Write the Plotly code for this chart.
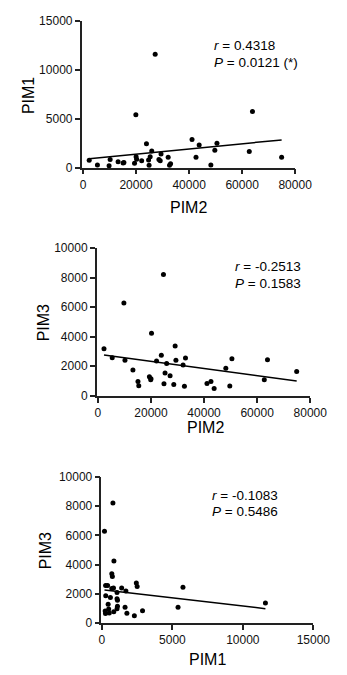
import numpy as np
import plotly.graph_objects as go

# ---- data (one row per sample) ----
PIM2 = [2300, 5400, 9800, 10200, 13200, 15100, 15400, 19400, 19900, 20200, 20000,
        22100, 23900, 24700, 24900, 25300, 25900, 27200, 28600, 29100, 29400,
        32100, 32600, 33000, 41100, 42600, 43800, 48200, 49700, 50500, 62700,
        63900, 74900]
PIM1 = [740, 260, 180, 820, 600, 480, 520, 440, 5400, 850, 1100,
        700, 2440, 780, 230, 1100, 1700, 11600, 840, 700, 1400,
        1070, 250, 400, 2880, 1070, 2300, 270, 1770, 2500, 1640,
        5750, 1070]
PIM3 = [3190, 2570, 6290, 2400, 1740, 960, 680, 1280, 1080, 4240, 1150,
        2360, 2740, 8220, 820, 1550, 2190, 1360, 770, 3380, 2400,
        2090, 640, 2560, 830, 970, 490, 1860, 660, 2500, 1080,
        2440, 1650]

R_TEXT = ["0.4318", "-0.2513", "-0.1083"]
P_TEXT = ["0.0121 (*)", "0.1583", "0.5486"]

X_TICKS_PIM2 = [0, 20000, 40000, 60000, 80000]
X_TICKS_PIM1 = [0, 5000, 10000, 15000]
Y_TICKS_PIM1 = [0, 5000, 10000, 15000]
Y_TICKS_PIM3 = [0, 2000, 4000, 6000, 8000, 10000]

W, H = 347, 675
FONT = "Liberation Sans, Arial, Helvetica, sans-serif"

def px(x):
    return x / W

def py(y):
    return (H - y) / H

panels = [
    dict(x=PIM2, y=PIM1, xn="PIM2", yn="PIM1", xt=X_TICKS_PIM2, yt=Y_TICKS_PIM1,
         xd=(83.5, 310), xr=(-533, 80000), yd=(164, 14.3), yr=(0, 15000),
         xtitle=(196.7, 204.5), ytitle=(26.5, 90), stat=(222, 39, 57)),
    dict(x=PIM2, y=PIM3, xn="PIM2", yn="PIM3", xt=X_TICKS_PIM2, yt=Y_TICKS_PIM3,
         xd=(99.5, 326), xr=(-426, 80000), yd=(397, 246.3), yr=(0, 10000),
         xtitle=(214.5, 429), ytitle=(43, 322.5), stat=(244, 265.5, 282.5)),
    dict(x=PIM1, y=PIM3, xn="PIM1", yn="PIM3", xt=X_TICKS_PIM1, yt=Y_TICKS_PIM3,
         xd=(104.5, 329.3), xr=(-33, 15000), yd=(629, 480), yr=(0, 10000),
         xtitle=(217, 666), ytitle=(45.5, 555), stat=(220, 498.5, 515)),
]

fig = go.Figure()
layout = dict(
    width=W, height=H, margin=dict(l=0, r=0, t=0, b=0),
    paper_bgcolor="white", plot_bgcolor="white", showlegend=False,
    font=dict(family=FONT, color="black"),
)
annotations = []

for i, p in enumerate(panels):
    n = "" if i == 0 else str(i + 1)
    xa, ya = "x" + n, "y" + n
    xs = np.array(p["x"], dtype=float)
    ys = np.array(p["y"], dtype=float)
    fig.add_trace(go.Scatter(x=xs, y=ys, mode="markers", xaxis=xa, yaxis=ya,
                             marker=dict(color="black", size=5), cliponaxis=False))
    slope, icpt = np.polyfit(xs, ys, 1)
    lx = np.array([xs.min(), xs.max()])
    fig.add_trace(go.Scatter(x=lx, y=slope * lx + icpt, mode="lines", xaxis=xa, yaxis=ya,
                             line=dict(color="black", width=1.5), cliponaxis=False))
    axis_common = dict(showline=True, linecolor="#222", linewidth=1.6, ticks="outside",
                       ticklen=5, tickwidth=1.5, tickcolor="#222", showgrid=False,
                       zeroline=False, tickfont=dict(size=12, family=FONT, color="#111"))
    layout["xaxis" + n] = dict(domain=[px(p["xd"][0]), px(p["xd"][1])], range=list(p["xr"]),
                               anchor=ya, tickvals=p["xt"], ticktext=[str(t) for t in p["xt"]],
                               **axis_common)
    layout["yaxis" + n] = dict(domain=[py(p["yd"][0]), py(p["yd"][1])], range=list(p["yr"]),
                               anchor=xa, tickvals=p["yt"], ticktext=[str(t) for t in p["yt"]],
                               **axis_common)
    annotations.append(dict(text=p["xn"], x=px(p["xtitle"][0]), y=py(p["xtitle"][1]),
                            xref="paper", yref="paper", showarrow=False,
                            xanchor="center", yanchor="middle",
                            font=dict(size=16, family=FONT, color="black")))
    annotations.append(dict(text=p["yn"], x=px(p["ytitle"][0]), y=py(p["ytitle"][1]),
                            xref="paper", yref="paper", showarrow=False, textangle=-90,
                            xanchor="center", yanchor="middle",
                            font=dict(size=16, family=FONT, color="black")))
    sx, sy1, sy2 = p["stat"]
    annotations.append(dict(text="<i>r</i> = " + R_TEXT[i], x=px(sx), y=py(sy1),
                            xref="paper", yref="paper", showarrow=False,
                            xanchor="left", yanchor="middle",
                            font=dict(size=13.5, family=FONT, color="black")))
    annotations.append(dict(text="<i>P</i> = " + P_TEXT[i], x=px(sx), y=py(sy2),
                            xref="paper", yref="paper", showarrow=False,
                            xanchor="left", yanchor="middle",
                            font=dict(size=13.5, family=FONT, color="black")))

layout["annotations"] = annotations
fig.update_layout(**layout)
fig.write_html("out.html", config={"displayModeBar": False},
               post_script="document.body.style.margin='0';document.body.style.overflow='hidden';")
